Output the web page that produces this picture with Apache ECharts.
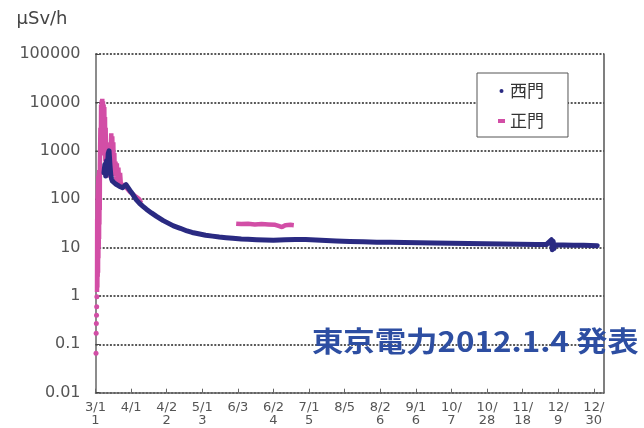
<!DOCTYPE html>
<html>
<head>
<meta charset="utf-8">
<script src="https://cdn.jsdelivr.net/npm/echarts@6/dist/echarts.min.js"></script>
<style>
  html, body { margin: 0; padding: 0; background: #fff; }
  #chart { width: 644px; height: 428px; }
</style>
</head>
<body>
<div id="chart"></div>
<script>
// Dose rate at the plant boundary (μSv/h), days counted from 3/11
const xTickLabels = ['3/1\n1', '4/1', '4/2\n2', '5/1\n3', '6/3', '6/2\n4', '7/1\n5', '8/5',
  '8/2\n6', '9/1\n6', '10/\n7', '10/\n28', '11/\n18', '12/\n9', '12/\n30'];
const xTickStep = 21;
const yTickLabels = ['0.01', '0.1', '1', '10', '100', '1000', '10000', '100000'];

// 西門 (west gate)
const westDays = [5, 5.5, 6, 6.5, 7, 7.5, 8, 8.5, 9, 9.5, 10, 11, 12, 13, 14, 15, 16, 17, 18, 19,
  20, 21, 22, 23, 24, 26, 28, 30, 33, 36, 40, 44, 46, 50, 54, 57, 60, 65, 69, 73, 77, 81, 86, 90,
  95, 100, 105, 112, 118, 124, 130, 136, 142, 150, 158, 166, 174, 182, 191, 200, 210, 220, 230,
  240, 250, 260, 266, 269, 269.5, 270, 270.5, 271, 276, 282, 288, 292, 296];
const westValues = [350, 520, 300, 620, 420, 880, 1000, 520, 320, 260, 235, 215, 205, 192, 185,
  180, 172, 178, 200, 188, 158, 140, 126, 110, 98, 82, 71, 62, 52, 44, 36, 30.5, 28, 25, 22, 20.5,
  19.5, 18, 17.2, 16.5, 16, 15.5, 15, 14.8, 14.5, 14.3, 14.2, 14.5, 14.7, 14.6, 14.4, 14.0, 13.7,
  13.4, 13.1, 12.9, 12.8, 12.7, 12.6, 12.4, 12.3, 12.1, 12.0, 11.9, 11.7, 11.6, 11.5, 14.5, 9.0,
  13.5, 9.5, 11.4, 11.3, 11.2, 11.1, 11.0, 10.9];

// 正門 (main gate); null marks a break between readings
const mainDays = [0.3, 0.35, 0.4, 0.45, 0.5, 0.55, 0.6, 0.65, 0.7, 0.75, 0.8, 0.85,
  0.9, 1.0, 1.1, 1.2, 1.3, 1.4, 1.5, 1.6, 1.7, 1.8, 1.9, 2.0, 2.1, 2.2, 2.3, 2.4, 2.5, 2.6,
  2.9, 3.1, 3.3, 3.5, 3.7, 3.9, 4.0, 4.2, 4.4, 4.6, 4.8, 5.0, 5.2, 5.4, 5.6, 5.8, 6.0, 6.2, 6.4,
  6.6, 6.8, 7.0, 7.3, 7.6, 7.9, 8.2, 8.6, 9.0, 9.3, 9.6, 9.9, 10.2, 10.5, 10.8, 11.1, 11.4,
  11.8, 12.2, 12.6, 13.0, 13.5, 14.0, 14.5, 15.0, 15.5, 16.5, 18, 20, 22, 24, 25.5, 26.5, 27.5,
  50,
  83, 86, 90, 94, 98, 102, 106, 108, 110, 112, 115, 117];
const mainValues = [0.065, null, 0.17, null, 0.27, null, 0.4, null, 0.6, null, 0.96, null,
  1.2, 40, 1.5, 120, 2.5, 200, 3, 300, 6, 250, 10, 350, 15, 400, 30, 300, 60, 500,
  3000, 800, 9000, 1500, 11000, 2000, 11900, 3000, 10500, 1500, 9000, 1200, 8000, 800, 5000,
  600, 3000, 500, 1500, 400, 1000, 350, 800, 300, 650, 280, 500, 1200, 2300, 500, 2000, 400,
  1500, 350, 900, 300, 600, 250, 550, 230, 450, 200, 350, 190, 180, 200, 175, 145, 125, 112,
  102, 92, 96,
  null,
  31, 30.5, 31, 30, 30.5, 30, 29.5, 28, 26.5, 29, 29.5, 29];

const BLUE = '#2a2a82';
const PINK = '#d24ea6';

const toPairs = (xs, ys) => xs.map((d, i) => [d, ys[i] === null ? '-' : ys[i]]);
// a reading with a break on both sides is drawn as a dot
const isolated = mainValues.map((v, i) =>
  v !== null && (i === 0 || mainValues[i - 1] === null) &&
  (i === mainValues.length - 1 || mainValues[i + 1] === null));

const chart = echarts.init(document.getElementById('chart'), null, { renderer: 'canvas' });
const tickValues = xTickLabels.map((_, i) => i * xTickStep);

chart.setOption({
  animation: false,
  backgroundColor: '#fff',
  grid: { left: 95.5, right: 40, top: 54, bottom: 35.3 },
  xAxis: {
    type: 'value',
    min: 0,
    max: 300,
    interval: xTickStep,
    axisLine: { lineStyle: { color: '#666', width: 1.5 } },
    axisTick: { inside: true, length: 4, customValues: tickValues, lineStyle: { color: '#666' } },
    splitLine: { show: false },
    axisLabel: {
      customValues: tickValues,
      margin: 8,
      fontFamily: 'DejaVu Sans',
      fontSize: 13,
      lineHeight: 13,
      color: '#555',
      formatter: v => xTickLabels[Math.round(v / xTickStep)] || ''
    }
  },
  yAxis: [{
    type: 'log',
    logBase: 10,
    min: 0.01,
    max: 100000,
    name: 'μSv/h',
    nameLocation: 'end',
    nameGap: 26,
    nameTextStyle: { fontFamily: 'DejaVu Sans', fontSize: 18, color: '#444', align: 'right', padding: [0, 28, 0, 0] },
    axisLine: { show: true, lineStyle: { color: '#666', width: 1.5 } },
    axisTick: { show: true, inside: true, length: 4, lineStyle: { color: '#444' } },
    axisLabel: {
      margin: 15,
      fontFamily: 'DejaVu Sans',
      fontSize: 16,
      color: '#555',
      formatter: v => yTickLabels[Math.round(Math.log10(v)) + 2]
    },
    splitLine: { show: true, lineStyle: { color: '#222', width: 1.6, type: [2, 1.6] } }
  }, {
    type: 'log',
    logBase: 10,
    min: 0.01,
    max: 100000,
    position: 'right',
    axisLine: { show: true, lineStyle: { color: '#555', width: 1.5 } },
    axisTick: { show: false },
    axisLabel: { show: false },
    splitLine: { show: false }
  }],
  legend: {
    orient: 'vertical',
    left: 477,
    top: 73,
    padding: [9, 24, 7, 21],
    itemGap: 12,
    itemWidth: 7,
    itemHeight: 4,
    borderColor: '#555',
    borderWidth: 1,
    backgroundColor: '#fff',
    textStyle: { fontFamily: 'Noto Sans CJK JP', fontSize: 17, lineHeight: 18, color: '#333' },
    data: [{ name: '西門', icon: 'circle' }, { name: '正門', icon: 'rect' }]
  },
  series: [{
    name: '正門',
    type: 'line',
    data: toPairs(mainDays, mainValues),
    connectNulls: false,
    symbol: 'circle',
    symbolSize: (val, params) => (isolated[params.dataIndex] ? 5 : 0),
    showSymbol: true,
    color: PINK,
    itemStyle: { color: PINK },
    lineStyle: { color: PINK, width: 4.5 },
    z: 2
  }, {
    name: '西門',
    type: 'line',
    data: toPairs(westDays, westValues),
    showSymbol: false,
    color: BLUE,
    itemStyle: { color: BLUE },
    lineStyle: { color: BLUE, width: 5, join: 'round', cap: 'round' },
    z: 3
  }],
  graphic: [{
    type: 'text',
    x: 312,
    y: 341,
    scaleX: 1.12,
    z: 10,
    style: {
      text: '東京電力2012.1.4 発表',
      x: 0,
      y: 0,
      align: 'left',
      verticalAlign: 'middle',
      font: 'bold 28px "Noto Sans CJK JP"',
      fill: '#2d4ea2'
    }
  }]
});
</script>
</body>
</html>
